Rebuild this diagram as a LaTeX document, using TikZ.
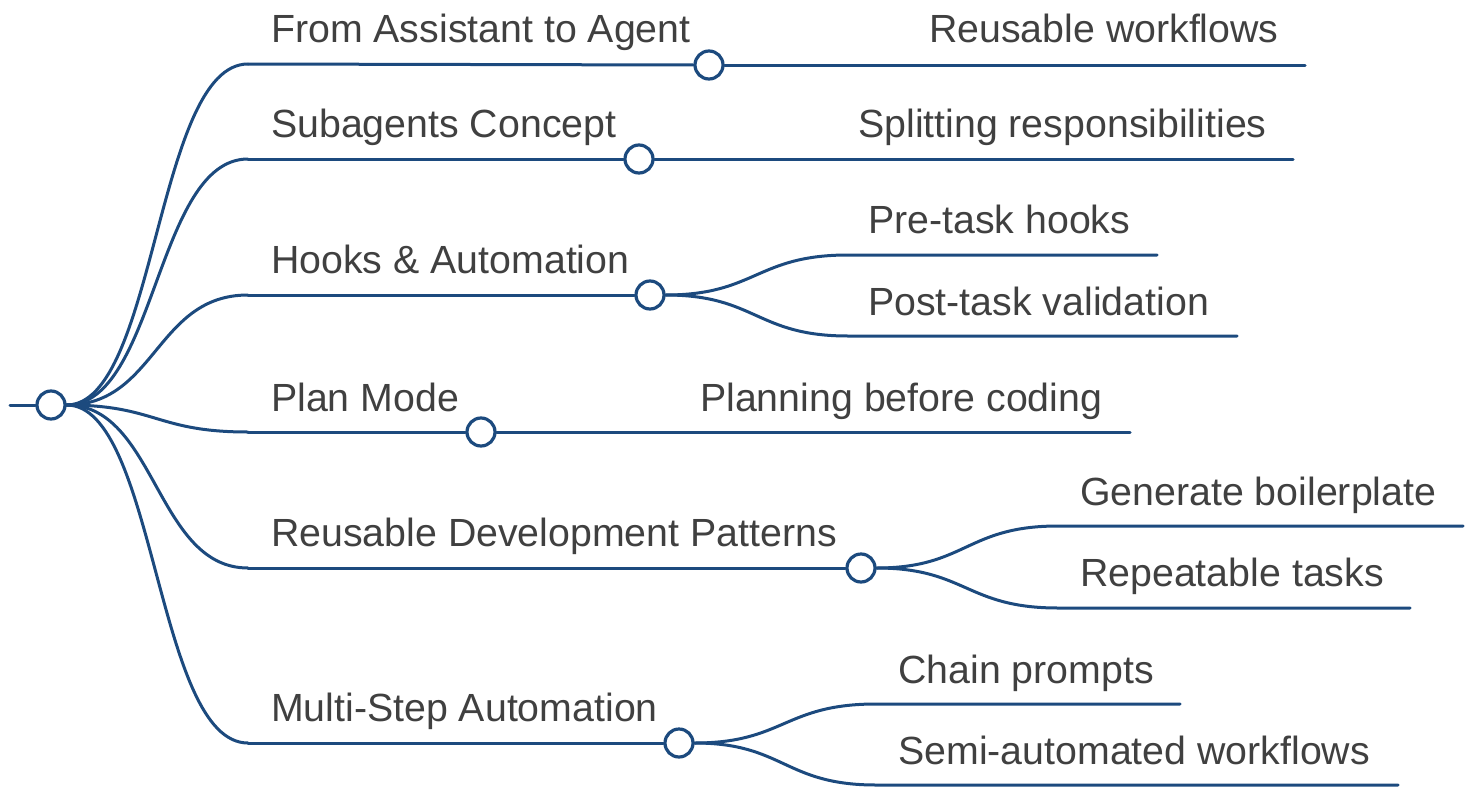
\documentclass[tikz,border=0pt]{standalone}
\usepackage{fontspec}
\setmainfont{Liberation Sans}
\definecolor{linkblue}{HTML}{1C4A7E}
\definecolor{labelgray}{HTML}{404040}
\tikzset{
  link/.style={draw=linkblue, line width=3pt, line cap=round},
  dot/.style={circle, draw=linkblue, fill=white, line width=3.2pt, minimum size=28pt, inner sep=0pt},
  lbl/.style={anchor=base west, inner sep=0pt, text=labelgray, font=\fontsize{39.3}{47}\selectfont},
}
\begin{document}
\begin{tikzpicture}[x=1pt, y=-1pt]
\useasboundingbox (0,0) rectangle (1472,787);

% root
\coordinate (rin) at (10,405);
\node[dot] (root) at (51,405) {};
\draw[link] (rin) -- (root.west);

% level-1 line starts
\coordinate (b1) at (248,64);
\coordinate (b2) at (248,159);
\coordinate (b3) at (248,295);
\coordinate (b4) at (248,432);
\coordinate (b5) at (248,568);
\coordinate (b6) at (248,743);

% level-1 circles
\node[dot] (c1) at (709,65) {};
\node[dot] (c2) at (639,159) {};
\node[dot] (c3) at (650,295) {};
\node[dot] (c4) at (481,432) {};
\node[dot] (c5) at (861,568) {};
\node[dot] (c6) at (679,743) {};

% level-1 labels
\node[lbl] (t1) at (271,42) {From Assistant to Agent};
\node[lbl] (t2) at (271,137) {Subagents Concept};
\node[lbl] (t3) at (271,273) {Hooks \& Automation};
\node[lbl] (t4) at (271,411) {Plan Mode};
\node[lbl] (t5) at (271,546) {Reusable Development Patterns};
\node[lbl] (t6) at (271,721) {Multi-Step Automation};

% root to level-1 curves
\foreach \b/\y in {b1/64,b2/159,b3/295,b4/432,b5/568,b6/743}{
  \draw[link] (root.east) .. controls (156,405) and (156,\y) .. (\b);
}
\foreach \i in {1,...,6}{
  \draw[link] (b\i) -- (c\i.west);
}

% level-2 junctions and ends
\coordinate (j1) at (907,65);    \coordinate (e1) at (1305,65);
\coordinate (j2) at (836,159);   \coordinate (e2) at (1293,159);
\coordinate (j3a) at (848,255);  \coordinate (e3a) at (1157,255);
\coordinate (j3b) at (848,336);  \coordinate (e3b) at (1237,336);
\coordinate (j4) at (679,432);   \coordinate (e4) at (1130,432);
\coordinate (j5a) at (1058,526); \coordinate (e5a) at (1463,526);
\coordinate (j5b) at (1058,608); \coordinate (e5b) at (1410,608);
\coordinate (j6a) at (876,704);  \coordinate (e6a) at (1180,704);
\coordinate (j6b) at (876,785);  \coordinate (e6b) at (1398,785);

% single children: straight links
\draw[link] (c1.east) -- (j1) -- (e1);
\draw[link] (c2.east) -- (j2) -- (e2);
\draw[link] (c4.east) -- (j4) -- (e4);

% branching children: curved links
\draw[link] (c3.east) .. controls (756,295) and (756,255) .. (j3a) -- (e3a);
\draw[link] (c3.east) .. controls (756,295) and (756,336) .. (j3b) -- (e3b);
\draw[link] (c5.east) .. controls (966,568) and (966,526) .. (j5a) -- (e5a);
\draw[link] (c5.east) .. controls (966,568) and (966,608) .. (j5b) -- (e5b);
\draw[link] (c6.east) .. controls (784,743) and (784,704) .. (j6a) -- (e6a);
\draw[link] (c6.east) .. controls (784,743) and (784,785) .. (j6b) -- (e6b);

% level-2 labels
\node[lbl] (s1) at (929,42) {Reusable workflows};
\node[lbl] (s2) at (858,137) {Splitting responsibilities};
\node[lbl] (s3a) at (868,233) {Pre-task hooks};
\node[lbl] (s3b) at (868,315) {Post-task validation};
\node[lbl] (s4) at (700,411) {Planning before coding};
\node[lbl] (s5a) at (1080,505) {Generate boilerplate};
\node[lbl] (s5b) at (1080,586) {Repeatable tasks};
\node[lbl] (s6a) at (898,683) {Chain prompts};
\node[lbl] (s6b) at (898,764) {Semi-automated workflows};
\end{tikzpicture}
\end{document}
